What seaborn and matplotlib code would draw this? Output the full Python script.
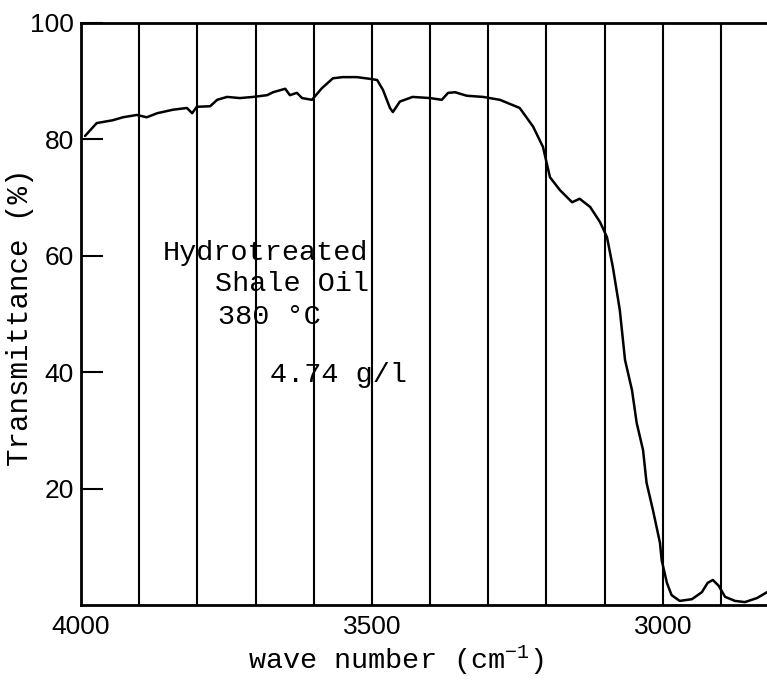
import matplotlib
matplotlib.use("Agg")
import matplotlib.pyplot as plt
import seaborn as sns
import pandas as pd

# ---- data ----
wavenumber = [3993, 3973, 3945, 3928, 3904, 3887, 3869, 3842, 3818, 3809, 3801,
              3778, 3766, 3749, 3727, 3704, 3680, 3670, 3649, 3641, 3629, 3620,
              3603, 3586, 3567, 3550, 3526, 3503, 3491, 3481, 3469, 3464, 3452,
              3430, 3400, 3380, 3369, 3357, 3337, 3309, 3280, 3246, 3223, 3206,
              3194, 3177, 3156, 3143, 3125, 3108, 3096, 3086, 3074, 3065, 3053,
              3045, 3034, 3028, 3017, 3005, 3002, 2993, 2985, 2971, 2950, 2933,
              2923, 2914, 2904, 2893, 2876, 2859, 2838, 2821]
transmittance = [80.6, 82.8, 83.3, 83.8, 84.2, 83.8, 84.5, 85.1, 85.4, 84.5, 85.6,
                 85.7, 86.8, 87.3, 87.1, 87.3, 87.6, 88.1, 88.7, 87.6, 88.0, 87.1,
                 86.8, 88.8, 90.5, 90.7, 90.7, 90.4, 90.2, 88.5, 85.4, 84.7, 86.5,
                 87.3, 87.1, 86.8, 88.0, 88.1, 87.5, 87.3, 86.8, 85.4, 82.2, 78.7,
                 73.5, 71.3, 69.2, 69.8, 68.4, 65.8, 63.2, 58.1, 50.7, 42.1, 36.9,
                 31.3, 26.6, 21.0, 16.3, 10.7, 7.7, 3.8, 1.7, 0.7, 1.0, 2.2,
                 3.8, 4.3, 3.3, 1.4, 0.7, 0.5, 1.2, 2.2]
grid_positions = list(range(3900, 2800, -100))
xtick_values = [4000, 3500, 3000]
ytick_values = [20, 40, 60, 80, 100]
annotation_lines = ["Hydrotreated", "Shale Oil", "380 \u00b0C", "4.74 g/l"]
annotation_x = [3859, 3770, 3765, 3675]
annotation_y = [60.5, 55.2, 49.5, 39.5]

df = pd.DataFrame({"wavenumber": wavenumber, "transmittance": transmittance})

sns.set_theme(style="white")
plt.rcParams["mathtext.default"] = "regular"

mono = ["Liberation Mono", "DejaVu Sans Mono"]
sans = ["Liberation Sans", "DejaVu Sans"]

fig = plt.figure(figsize=(7.67, 6.81), dpi=100)
ax = fig.add_axes([81 / 767, (681 - 605) / 681, (767 - 81) / 767, 582 / 681])

for g in grid_positions:
    ax.axvline(g, color="black", lw=1.5, zorder=1)

sns.lineplot(data=df, x="wavenumber", y="transmittance", ax=ax,
             color="black", lw=1.8, sort=False, estimator=None, zorder=3)

ax.set_xlim(4000, 2821)
ax.set_ylim(0, 100)

ax.set_xticks(xtick_values)
ax.set_xticklabels([str(v) for v in xtick_values], fontfamily=sans, fontsize=19)
ax.tick_params(axis="x", length=0, pad=7, colors="black")

ax.set_yticks(ytick_values)
ax.set_yticklabels([str(v) for v in ytick_values], fontfamily=sans, fontsize=19)
ax.tick_params(axis="y", direction="in", length=16, width=1.5, pad=5,
               colors="black", left=True)

for side in ["left", "bottom", "top"]:
    ax.spines[side].set_visible(True)
    ax.spines[side].set_color("black")
    ax.spines[side].set_linewidth(2)
ax.spines["right"].set_visible(False)

ax.set_xlabel("wave number (cm$^{-1}$)", fontfamily=mono, fontsize=20.5, color="black")
ax.xaxis.set_label_coords(0.459, -0.066)
ax.set_ylabel("Transmittance (%)", fontfamily=mono, fontsize=21, color="black")
ax.yaxis.set_label_coords(-0.068, 0.495)

for txt, x, y in zip(annotation_lines, annotation_x, annotation_y):
    ax.text(x, y, txt, fontfamily=mono, fontsize=20.5, ha="left", va="center",
            color="black", zorder=4)

fig.savefig("out.png", dpi=100, facecolor="white")
